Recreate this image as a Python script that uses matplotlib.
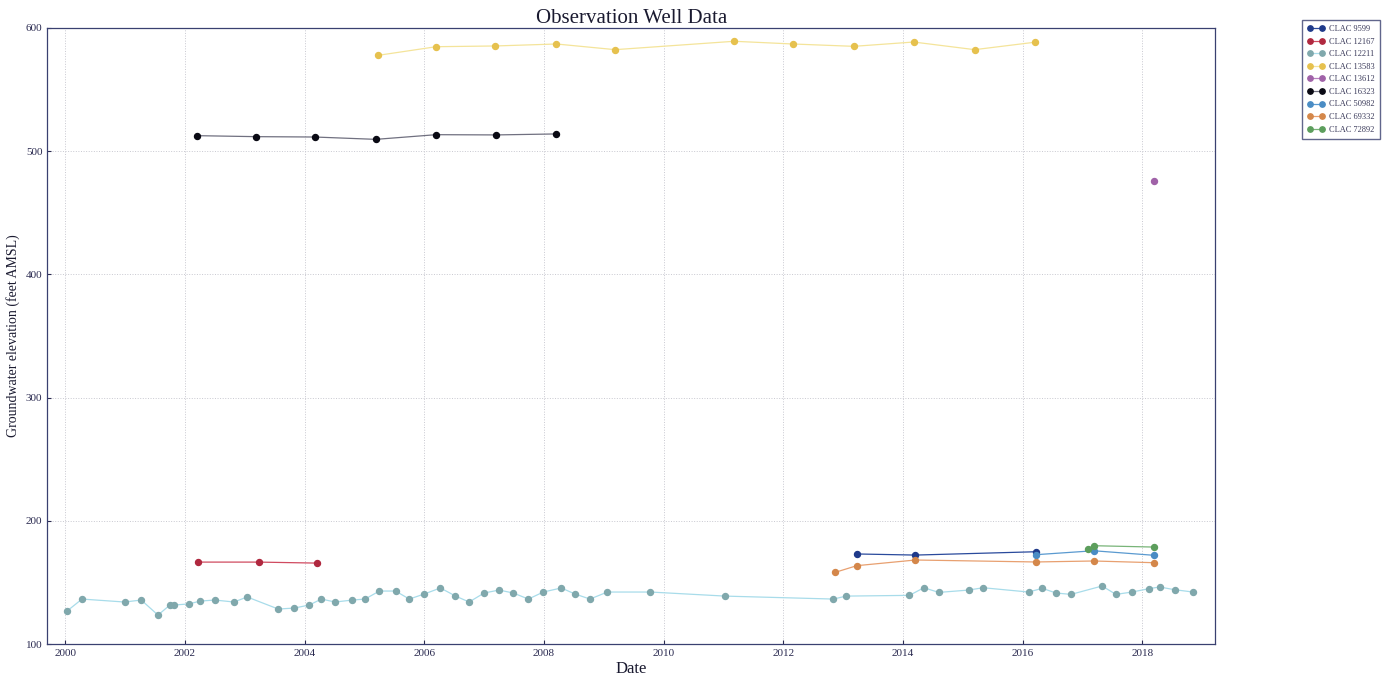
import matplotlib
matplotlib.use("Agg")
from matplotlib import pyplot as plt
from matplotlib.ticker import MultipleLocator, FormatStrFormatter

# dates as decimal years, elevations in feet AMSL
wells = ["CLAC 9599", "CLAC 12167", "CLAC 12211", "CLAC 13583", "CLAC 13612",
         "CLAC 16323", "CLAC 50982", "CLAC 69332", "CLAC 72892"]

t_9599 = [2013.23, 2014.21, 2016.22]
v_9599 = [173.1, 172.2, 174.9]

t_12167 = [2002.21, 2003.23, 2004.20]
v_12167 = [166.5, 166.5, 165.7]

t_12211 = [2000.03, 2000.28, 2000.99, 2001.27, 2001.55, 2001.75, 2001.82, 2002.06,
           2002.26, 2002.50, 2002.82, 2003.04, 2003.56, 2003.83, 2004.08, 2004.28,
           2004.51, 2004.80, 2005.01, 2005.25, 2005.52, 2005.75, 2006.00, 2006.27,
           2006.52, 2006.75, 2007.00, 2007.25, 2007.49, 2007.74, 2007.99, 2008.29,
           2008.52, 2008.77, 2009.06, 2009.78, 2011.03, 2012.84, 2013.05, 2014.11,
           2014.35, 2014.60, 2015.10, 2015.34, 2016.10, 2016.33, 2016.56, 2016.81,
           2017.33, 2017.56, 2017.83, 2018.11, 2018.29, 2018.54, 2018.85]
v_12211 = [126.8, 136.5, 134.1, 135.7, 123.5, 131.7, 131.7, 132.5,
           134.9, 135.7, 134.1, 138.2, 128.4, 129.2, 131.7, 136.5,
           134.1, 135.7, 136.5, 143.0, 143.0, 136.5, 140.6, 145.5,
           139.0, 134.1, 141.4, 143.8, 141.4, 136.5, 142.2, 145.5,
           140.6, 136.5, 142.2, 142.2, 138.9, 136.5, 138.9, 139.5,
           145.7, 141.9, 143.8, 145.7, 142.2, 145.2, 141.4, 140.3,
           147.1, 140.3, 142.2, 144.9, 146.3, 144.1, 142.2]

t_13583 = [2005.23, 2006.20, 2007.19, 2008.21, 2009.19, 2011.18, 2012.16,
           2013.18, 2014.18, 2015.20, 2016.20]
v_13583 = [577.8, 584.8, 585.4, 587.0, 582.4, 589.2, 587.0,
           585.1, 588.6, 582.4, 588.4]

t_13612 = [2018.20]
v_13612 = [475.4]

t_16323 = [2002.20, 2003.18, 2004.17, 2005.19, 2006.20, 2007.20, 2008.21]
v_16323 = [512.6, 511.8, 511.5, 509.6, 513.4, 513.2, 514.0]

t_50982 = [2016.22, 2017.19, 2018.20]
v_50982 = [172.5, 175.7, 172.0]

t_69332 = [2012.87, 2013.23, 2014.21, 2016.22, 2017.19, 2018.20]
v_69332 = [158.2, 163.6, 168.2, 166.6, 167.4, 166.0]

t_72892 = [2017.09, 2017.19, 2018.20]
v_72892 = [177.4, 179.8, 178.7]

times = [t_9599, t_12167, t_12211, t_13583, t_13612, t_16323, t_50982, t_69332, t_72892]
values = [v_9599, v_12167, v_12211, v_13583, v_13612, v_16323, v_50982, v_69332, v_72892]

marker_colors = ["#1f3a8a", "#b0283f", "#80a8ac", "#e6c14e", "#a062a8",
                 "#0a0a14", "#4a8cc4", "#d4874a", "#5c9e5c"]
line_colors = ["#2a4a9c", "#d04a60", "#a8dcea", "#f4e49a", "#b880c0",
               "#707080", "#5a9ad0", "#e8a070", "#78b478"]

plt.rcParams['font.family'] = ['Liberation Serif', 'DejaVu Serif']

fig = plt.figure(figsize=(13.92, 6.79), dpi=100)
ax = fig.add_axes([0.034, 0.0515, 0.839, 0.9073])

for name, t, v, mc, lc in zip(wells, times, values, marker_colors, line_colors):
    ax.plot(t, v, '-', color=lc, linewidth=0.9, marker='o', markersize=4.3,
            markerfacecolor=mc, markeredgecolor=mc, label=name)

ax.set_xlim(1999.7, 2019.22)
ax.set_ylim(100, 600)
ax.xaxis.set_major_locator(MultipleLocator(2))
ax.xaxis.set_major_formatter(FormatStrFormatter('%d'))
ax.yaxis.set_major_locator(MultipleLocator(100))
ax.grid(True, color='#c8c8d0', linestyle=':', linewidth=0.7)
ax.tick_params(labelsize=8, colors='#2a2a50', direction='in', length=3)
for s in ax.spines.values():
    s.set_color('#3a4070')
    s.set_linewidth(0.9)

ax.set_title("Observation Well Data", fontsize=15, color='#1a1a30', pad=2)
ax.set_xlabel("Date", fontsize=12, color='#1a1a30', labelpad=2)
ax.set_ylabel("Groundwater elevation (feet AMSL)", fontsize=10, color='#1a1a30',
              labelpad=4)

leg = ax.legend(loc='upper right', bbox_to_anchor=(1.141, 1.013), fontsize=6,
                numpoints=2, handlelength=2.0, handletextpad=0.6, markerscale=0.9,
                frameon=True, fancybox=False, borderpad=0.6, labelspacing=0.55,
                borderaxespad=0)
leg.get_frame().set_edgecolor('#3a4070')
for txt in leg.get_texts():
    txt.set_color('#3a3a5a')

fig.savefig("out.png", dpi=100)
